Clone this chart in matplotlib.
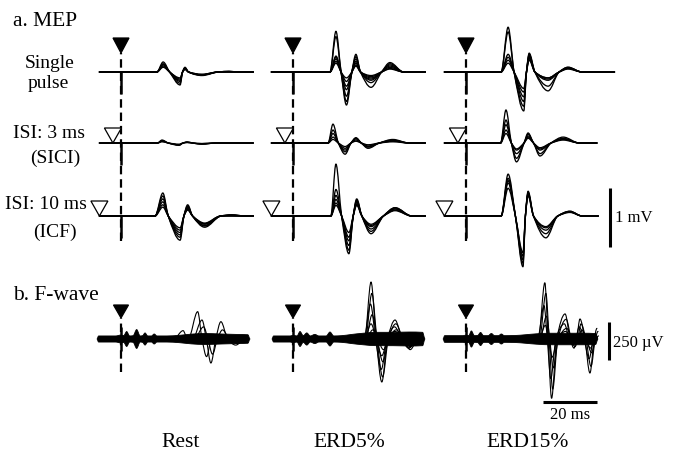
import numpy as np
import matplotlib
matplotlib.use("Agg")
import matplotlib.pyplot as plt
from matplotlib.path import Path
from matplotlib.patches import PathPatch, Polygon

plt.rcParams['font.family'] = ['Liberation Serif', 'DejaVu Serif']

# ---------------- data ----------------
COLUMNS = ["Rest", "ERD5%", "ERD15%"]
ROW_LABELS = [["Single", "pulse"], ["ISI: 3 ms", "(SICI)"], ["ISI: 10 ms", "(ICF)"]]
COND_STIM_MS = [None, -3.0, -8.0]      # conditioning pulse (open triangle), ms
TRACE_START_MS = -8.0

# MEP landmark times (ms): onset, P1, Z1, N1, Z2, P2, Z3, N2, Z4, P3, Z5
# MEP traces (mV): one row per sweep -> [P1, N1, P2, N2, P3]
REST_SINGLE_T = [13.3, 15.6, 18.0, 21.9, 22.8, 23.7, 25.0, 30.0, 36.0, 40.0, 44.0]
REST_SINGLE = [[0.17, -0.22, 0.08, -0.06, 0.01],
               [0.14, -0.19, 0.07, -0.05, 0.01],
               [0.12, -0.16, 0.06, -0.05, 0.00],
               [0.10, -0.14, 0.05, -0.04, 0.00],
               [0.08, -0.12, 0.04, -0.04, 0.00],
               [0.13, -0.10, 0.06, -0.05, 0.01]]
REST_SICI_T = [13.5, 15.2, 17.5, 21.5, 23.0, 24.5, 26.5, 30.0, 35.0, 39.0, 44.0]
REST_SICI = [[0.05, -0.04, 0.02, -0.02, 0.0],
             [0.04, -0.03, 0.01, -0.02, 0.0],
             [0.03, -0.03, 0.01, -0.01, 0.0],
             [0.02, -0.02, 0.01, -0.01, 0.0]]
REST_ICF_T = [12.6, 15.5, 17.5, 21.9, 23.3, 24.7, 26.5, 31.0, 37.0, 41.0, 46.0]
REST_ICF = [[0.39, -0.41, 0.19, -0.19, 0.02],
            [0.34, -0.36, 0.17, -0.17, 0.02],
            [0.29, -0.32, 0.15, -0.16, 0.01],
            [0.24, -0.28, 0.13, -0.14, 0.01],
            [0.19, -0.24, 0.11, -0.13, 0.00],
            [0.15, -0.20, 0.10, -0.12, 0.00]]

ERD5_SINGLE_T = [13.7, 15.9, 17.8, 19.8, 21.8, 23.3, 25.0, 28.9, 32.8, 35.9, 41.0]
ERD5_SINGLE = [[0.69, -0.56, 0.30, -0.12, 0.08],
               [0.60, -0.50, 0.26, -0.26, 0.16],
               [0.27, -0.41, 0.22, -0.18, 0.12],
               [0.22, -0.30, 0.18, -0.14, 0.10],
               [0.18, -0.24, 0.15, -0.10, 0.14],
               [0.15, -0.16, 0.10, -0.08, 0.05],
               [0.25, -0.10, 0.12, -0.06, 0.06]]
ERD5_SICI_T = [13.0, 14.8, 16.8, 19.3, 21.5, 23.3, 25.3, 27.8, 32.0, 37.0, 43.0]
ERD5_SICI = [[0.32, -0.19, 0.09, -0.09, 0.06],
             [0.22, -0.15, 0.08, -0.07, 0.05],
             [0.16, -0.12, 0.07, -0.06, 0.04],
             [0.10, -0.09, 0.05, -0.05, 0.03],
             [0.06, -0.06, 0.03, -0.03, 0.02]]
ERD5_ICF_T = [14.0, 15.9, 18.0, 20.7, 22.3, 23.6, 25.5, 28.9, 33.5, 37.8, 44.0]
ERD5_ICF = [[0.88, -0.64, 0.29, -0.30, 0.14],
            [0.45, -0.58, 0.27, -0.26, 0.12],
            [0.35, -0.50, 0.25, -0.22, 0.14],
            [0.28, -0.42, 0.23, -0.18, 0.10],
            [0.22, -0.36, 0.20, -0.16, 0.12],
            [0.18, -0.28, 0.18, -0.14, 0.09]]

ERD15_SINGLE_T = [13.0, 15.6, 17.8, 21.4, 22.4, 23.4, 25.5, 30.4, 34.5, 37.8, 43.0]
ERD15_SINGLE = [[0.76, -0.66, 0.32, -0.32, 0.08],
                [0.68, -0.58, 0.30, -0.24, 0.08],
                [0.30, -0.50, 0.28, -0.14, 0.06],
                [0.25, -0.42, 0.25, -0.12, 0.07],
                [0.20, -0.34, 0.23, -0.10, 0.06],
                [0.15, -0.28, 0.20, -0.10, 0.05]]
ERD15_SICI_T = [12.8, 14.8, 16.8, 18.7, 21.5, 23.0, 25.0, 27.4, 31.5, 36.0, 42.0]
ERD15_SICI = [[0.56, -0.32, 0.17, -0.10, 0.07],
              [0.39, -0.18, 0.15, -0.22, 0.10],
              [0.31, -0.26, 0.12, -0.18, 0.08],
              [0.22, -0.12, 0.10, -0.12, 0.06],
              [0.16, -0.10, 0.08, -0.08, 0.05]]
ERD15_ICF_T = [13.0, 15.6, 18.3, 21.1, 22.0, 23.0, 25.0, 29.6, 34.0, 38.5, 43.0]
ERD15_ICF = [[0.71, -0.86, 0.42, -0.37, 0.08],
             [0.64, -0.80, 0.40, -0.30, 0.08],
             [0.56, -0.74, 0.37, -0.24, 0.07],
             [0.47, -0.68, 0.34, -0.20, 0.07],
             [0.60, -0.62, 0.38, -0.18, 0.06]]

MEP_T = [[REST_SINGLE_T, REST_SICI_T, REST_ICF_T],
         [ERD5_SINGLE_T, ERD5_SICI_T, ERD5_ICF_T],
         [ERD15_SINGLE_T, ERD15_SICI_T, ERD15_ICF_T]]
MEP = [[REST_SINGLE, REST_SICI, REST_ICF],
       [ERD5_SINGLE, ERD5_SICI, ERD5_ICF],
       [ERD15_SINGLE, ERD15_SICI, ERD15_ICF]]
MEP_END_MS = [[49.0, 49.0, 49.0], [49.0, 49.0, 49.0], [55.0, 48.5, 49.0]]

# F-wave: half-width of the dense band of sweeps (uV)
REST_ENV_T = [-8.9, -8.3, -2.0, 0.0, 1.0, 2.1, 3.2, 4.5, 5.8, 7.1, 8.0, 8.9, 9.9,
              11.3, 12.3, 13.3, 17.0, 21.5, 26.0, 31.0, 37.0, 43.0, 47.0, 47.8]
REST_ENV = [0, 20, 20, 26, 22, 49, 20, 22, 62, 20, 22, 40, 20,
            20, 33, 20, 20, 24, 32, 36, 33, 30, 28, 0]
ERD5_ENV_T = [-7.8, -7.2, -1.0, 0.0, 1.5, 2.6, 3.8, 5.1, 6.4, 8.1, 9.6, 12.3,
              13.7, 15.1, 18.0, 21.7, 26.0, 31.0, 37.0, 43.0, 48.0, 48.9]
ERD5_ENV = [0, 20, 20, 24, 20, 49, 22, 40, 20, 30, 20, 20,
            46, 20, 22, 30, 38, 44, 44, 46, 44, 0]
ERD15_ENV_T = [-8.5, -7.9, -1.0, 0.0, 1.0, 2.0, 3.1, 4.3, 5.4, 6.5, 8.2, 9.4,
               10.6, 12.0, 13.1, 14.2, 18.0, 22.0, 26.0, 31.0, 37.0, 43.0, 48.0, 48.9]
ERD15_ENV = [0, 22, 22, 26, 22, 53, 22, 23, 43, 22, 22, 36,
             22, 22, 33, 22, 23, 28, 34, 38, 38, 38, 36, 0]
F_ENV_T = [REST_ENV_T, ERD5_ENV_T, ERD15_ENV_T]
F_ENV = [REST_ENV, ERD5_ENV, ERD15_ENV]

# F-wave single sweeps standing out of the band (uV)
REST_F_T = [26.5, 30.0, 31.6, 33.3, 35.1, 37.0, 39.5, 42.5, 46.0]      # 0,P1,0,N1,0,P2,0,N2,0
REST_F = [[180, -116, 0, 0], [125, -158, 114, -40], [55, -5, 0, 0], [80, -100, 60, -30]]
REST_F_SHIFT = [-1.6, 0.0, -7.0, 0.6]
ERD5_F_T = [26.5, 28.9, 30.8, 32.9, 35.0, 37.8, 40.5, 43.0, 46.0]
ERD5_F = [[375, -283, 125, -40], [300, -250, 100, -50], [230, -200, 80, -60],
          [160, -150, 60, -70], [100, -110, 50, -60], [60, -70, 30, -50]]
ERD5_F_SHIFT = [0.0, 0.3, -0.2, 0.4, 0.0, 0.6]
ERD15_F_T = [26.8, 29.2, 30.4, 31.7, 33.6, 36.7, 38.6, 40.0, 41.0, 42.2, 44.0, 45.9, 47.5, 48.5]
ERD15_F = [[370, -390, 165, -60, 132, -224, 70], [300, -330, 130, -50, 100, -180, 50],
           [220, -260, 100, -40, 80, -130, 30], [150, -190, 70, -30, 60, -90, 20],
           [90, -120, 50, -20, 40, -60, 10]]
ERD15_F_SHIFT = [0.0, 0.4, -0.3, 0.6, 0.2]
F_T = [REST_F_T, ERD5_F_T, ERD15_F_T]
F_SWEEPS = [REST_F, ERD5_F, ERD15_F]
F_SHIFT = [REST_F_SHIFT, ERD5_F_SHIFT, ERD15_F_SHIFT]

# ---------------- layout (pixels of the 675x453 figure) ----------------
W, H = 675, 453
PX_MS = 2.7
PX_MV = 59.0
PX_UV = 38.0 / 250.0
STIM_X = [121, 293, 466]
MEP_Y = [72, 143, 216]
F_Y = 339

fig = plt.figure(figsize=(W / 100, H / 100), dpi=100)
fig.patch.set_facecolor('white')


def panel_axes(x0, y0, t_lim, v_lim, px_t, px_v):
    left = x0 + t_lim[0] * px_t
    right = x0 + t_lim[1] * px_t
    top = y0 - v_lim[1] * px_v
    bottom = y0 - v_lim[0] * px_v
    ax = fig.add_axes([left / W, 1 - bottom / H, (right - left) / W, (bottom - top) / H])
    ax.set_xlim(t_lim)
    ax.set_ylim(v_lim)
    ax.axis('off')
    ax.patch.set_alpha(0)
    return ax


def bezier(t, v):
    # monotone cubic through the read points, drawn as bezier segments
    t = np.asarray(t, float)
    v = np.asarray(v, float)
    h = np.diff(t)
    s = np.diff(v) / h
    d = np.zeros_like(v)
    for i in range(1, len(v) - 1):
        if s[i - 1] * s[i] > 0:
            w1 = 2 * h[i] + h[i - 1]
            w2 = h[i] + 2 * h[i - 1]
            d[i] = (w1 + w2) / (w1 / s[i - 1] + w2 / s[i])
    verts = [(t[0], v[0])]
    for i in range(len(h)):
        verts += [(t[i] + h[i] / 3, v[i] + d[i] * h[i] / 3),
                  (t[i + 1] - h[i] / 3, v[i + 1] - d[i + 1] * h[i] / 3),
                  (t[i + 1], v[i + 1])]
    return verts


def draw_curve(ax, t, v, lw, off=0.0):
    verts = [(a, b + off) for a, b in bezier(t, v)]
    codes = [Path.MOVETO] + [Path.CURVE4] * (len(verts) - 1)
    ax.add_patch(PathPatch(Path(verts, codes), fill=False, lw=lw, ec='black',
                           capstyle='round', joinstyle='round', clip_on=False))


def draw_band(ax, t, env):
    up = bezier(t, env)
    low = [(a, -b) for a, b in up][::-1]
    verts = up + low + [up[0]]
    codes = ([Path.MOVETO] + [Path.CURVE4] * (len(up) - 1) + [Path.LINETO] +
             [Path.CURVE4] * (len(low) - 1) + [Path.CLOSEPOLY])
    ax.add_patch(PathPatch(Path(verts, codes), fc='black', ec='black', lw=0.6, clip_on=False))


def triangle(ax, tc, tip, top, half_w, filled):
    ax.add_patch(Polygon([(tc - half_w, top), (tc + half_w, top), (tc, tip)], closed=True,
                         fc='black' if filled else 'white', ec='black', lw=0.9,
                         clip_on=False, zorder=5))


def dashed(ax, t, v_bottom, v_top):
    # drawn upward so that the pattern starts with a full dash at the bottom end
    ln, = ax.plot([t, t], [v_bottom, v_top], color='black', lw=1.6, clip_on=False)
    ln.set_dashes((3.8, 2.2))


# ---------------- MEP panels ----------------
for c in range(3):
    ax = panel_axes(STIM_X[c], MEP_Y[0], (-12, 62), (-3.2, 0.8), PX_MS, PX_MV)
    tri_w = 8.0 / PX_MS
    triangle(ax, 0.0, 19.0 / PX_MV, 34.0 / PX_MV, tri_w, True)
    dashed(ax, 0.0, -(241 - MEP_Y[0]) / PX_MV, 19.0 / PX_MV)
    for r in range(3):
        off = (MEP_Y[0] - MEP_Y[r]) / PX_MV
        T = MEP_T[c][r]
        ax.plot([0, 0], [off, off - 0.38], color='black', lw=1.8, solid_capstyle='butt')
        for amp in MEP[c][r]:
            p1, n1, p2, n2, p3 = amp
            t = [TRACE_START_MS] + T + [MEP_END_MS[c][r]]
            v = [0, 0, p1, 0, n1, 0, p2, 0, n2, 0, p3, 0, 0]
            draw_curve(ax, t, v, 0.95, off)
        if COND_STIM_MS[r] is not None:
            triangle(ax, COND_STIM_MS[r], off, off + 15.0 / PX_MV, 8.5 / PX_MS, False)
    if c == 2:
        off = (MEP_Y[0] - MEP_Y[2]) / PX_MV
        ax.plot([53.3, 53.3], [off - 0.525, off + 0.475], color='black', lw=2.2,
                solid_capstyle='butt', clip_on=False)
        ax.text(55.3, off - 0.03, "1 mV", fontsize=12, va='center', ha='left')

# ---------------- F-wave panels ----------------
for c in range(3):
    ax = panel_axes(STIM_X[c], F_Y, (-12, 62), (-560, 480), PX_MS, PX_UV)
    draw_band(ax, F_ENV_T[c], F_ENV[c])
    for amp, sh in zip(F_SWEEPS[c], F_SHIFT[c]):
        t = [x + sh for x in F_T[c]]
        v = [0]
        for a in amp[:-1]:
            v += [a, 0]
        v += [amp[-1]]
        if len(v) < len(t):
            v += [0]
        draw_curve(ax, t, v, 0.8)
    triangle(ax, 0.0, 21.0 / PX_UV, 34.0 / PX_UV, 7.5 / PX_MS, True)
    dashed(ax, 0.0, -33.0 / PX_UV, 21.0 / PX_UV)
    ax.plot([0, 0], [12 / PX_UV, -12 / PX_UV], color='black', lw=1.8, solid_capstyle='butt')
    if c == 2:
        ax.plot([53.0, 53.0], [-138, 112], color='black', lw=2.2, solid_capstyle='butt',
                clip_on=False)
        ax.text(54.4, -26, "250 \u00b5V", fontsize=12, va='center', ha='left')
        ax.plot([28.5, 48.5], [-414, -414], color='black', lw=2.2, solid_capstyle='butt',
                clip_on=False)
        ax.text(38.5, -445, "20 ms", fontsize=12, va='top', ha='center')

# ---------------- text ----------------
def ftext(x, y, s, size, ha='left'):
    fig.text(x / W, 1 - y / H, s, fontsize=size, ha=ha, va='baseline')

ftext(13, 26, "a. MEP", 15.5)
ftext(13, 300, "b. F-wave", 15.5)
row_pos = [[(50, 68), (48, 88)], [(49, 138), (55, 163)], [(46, 209), (55, 237)]]
for r in range(3):
    for line, (x, y) in zip(ROW_LABELS[r], row_pos[r]):
        ftext(x, y, line, 14, ha='center')
col_x = [181, 349, 528]
for c in range(3):
    ftext(col_x[c], 447, COLUMNS[c], 15.5, ha='center')

fig.savefig("out.png", dpi=100, facecolor='white')
